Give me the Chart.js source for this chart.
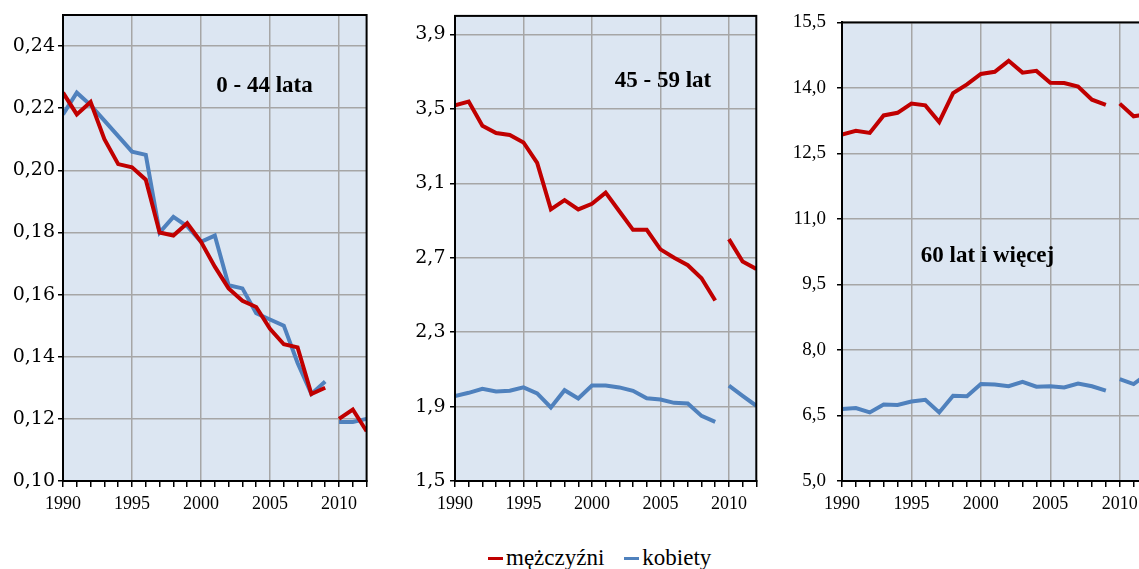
<!DOCTYPE html>
<html>
<head>
<meta charset="utf-8">
<script src="https://cdn.jsdelivr.net/npm/chart.js@4.4.1/dist/chart.umd.min.js"></script>
<style>
html, body { margin: 0; padding: 0; background: #fff; overflow: hidden; width: 1139px; height: 569px; }
canvas { position: absolute; top: 0; }
#c1 { left: 0; }
#c2 { left: 380px; }
#c3 { left: 760px; }
#legend { position: absolute; left: 488px; top: 545px; display: flex; align-items: center;
  font-family: "Liberation Serif", "Times New Roman", serif; font-size: 23px; color: #000; white-space: nowrap; }
#legend .sw { display: inline-block; width: 15px; height: 3px; margin-right: 3px; }
#legend .item { display: flex; align-items: center; margin-right: 20px; }
</style>
</head>
<body>
<canvas id="c1" width="380" height="520"></canvas>
<canvas id="c2" width="390" height="520"></canvas>
<canvas id="c3" width="400" height="520"></canvas>
<div id="legend">
  <span class="item"><span class="sw" style="background:#c00000"></span>mężczyźni</span>
  <span class="item"><span class="sw" style="background:#4f81bd"></span>kobiety</span>
</div>
<script>
const years = [1990, 1991, 1992, 1993, 1994, 1995, 1996, 1997, 1998, 1999, 2000, 2001,
  2002, 2003, 2004, 2005, 2006, 2007, 2008, 2009, 2010, 2011, 2012]

// 0 - 44 lata
const men044 = [0.225, 0.218, 0.222, 0.210, 0.202, 0.201, 0.197, 0.180, 0.179, 0.183, 0.177, 0.169,
  0.162, 0.158, 0.156, 0.149, 0.144, 0.143, 0.128, 0.130, 0.120, 0.123, 0.116]
const women044 = [0.218, 0.225, 0.221, 0.216, 0.211, 0.206, 0.205, 0.180, 0.185, 0.182, 0.177, 0.179,
  0.163, 0.162, 0.154, 0.152, 0.150, 0.138, 0.128, 0.132, 0.119, 0.119, 0.120]
const ticks044 = [0.10, 0.12, 0.14, 0.16, 0.18, 0.20, 0.22, 0.24]

// 45 - 59 lat
const men4559 = [3.52, 3.54, 3.41, 3.37, 3.36, 3.32, 3.21, 2.96, 3.01, 2.96, 2.99, 3.05,
  2.95, 2.85, 2.85, 2.745, 2.70, 2.66, 2.59, 2.47, 2.80, 2.68, 2.64]
const women4559 = [1.956, 1.974, 1.995, 1.981, 1.985, 2.003, 1.971, 1.895, 1.988, 1.944, 2.013, 2.013,
  2.003, 1.985, 1.945, 1.938, 1.920, 1.917, 1.850, 1.818, 2.013, 1.958, 1.904]
const ticks4559 = [1.5, 1.9, 2.3, 2.7, 3.1, 3.5, 3.9]

// 60 lat i więcej
const men60 = [12.93, 13.02, 12.97, 13.37, 13.43, 13.64, 13.60, 13.22, 13.88, 14.08, 14.32, 14.37,
  14.62, 14.35, 14.39, 14.12, 14.11, 14.03, 13.73, 13.61, 13.64, 13.35, 13.40]
const women60 = [6.65, 6.67, 6.57, 6.75, 6.74, 6.82, 6.86, 6.57, 6.95, 6.94, 7.22, 7.21,
  7.17, 7.27, 7.16, 7.17, 7.14, 7.23, 7.17, 7.07, 7.33, 7.22, 7.45]
const ticks60 = [5.0, 6.5, 8.0, 9.5, 11.0, 12.5, 14.0, 15.5]

const RED = '#c00000'
const BLUE = '#4f81bd'
const GRID = '#a6a6a6'
const SERIF = '"Liberation Serif", "Times New Roman", serif'

const panelDeco = {
	id: 'panelDeco',
	beforeDraw(chart) {
		const { ctx, chartArea: a } = chart
		ctx.save()
		ctx.fillStyle = '#dce6f2'
		ctx.fillRect(a.left, a.top, a.width, a.height)
		ctx.restore()
	},
	afterDraw(chart, args, opts) {
		const { ctx, chartArea: a } = chart
		ctx.save()
		ctx.strokeStyle = '#000'
		ctx.lineWidth = 2
		ctx.strokeRect(a.left, a.top, a.width, a.height)
		ctx.fillStyle = '#000'
		ctx.font = 'bold 23px ' + SERIF
		ctx.textAlign = 'center'
		ctx.textBaseline = 'alphabetic'
		ctx.fillText(opts.text, opts.x, opts.y)
		ctx.restore()
	}
}

const series = (name, values, color) => ({
	label: name,
	data: years.map((y, i) => ({ x: y, y: values[i] })),
	borderColor: color,
	borderWidth: 4,
	pointRadius: 0,
	tension: 0,
	fill: false,
	segment: {
		borderColor: ctx => ctx.p0.parsed.x === 2009 ? 'rgba(0,0,0,0)' : color
	}
})

function panel(id, o) {
	return new Chart(document.getElementById(id), {
		type: 'line',
		data: {
			datasets: [series('mężczyźni', o.men, RED), series('kobiety', o.women, BLUE)]
		},
		options: {
			responsive: false,
			animation: false,
			devicePixelRatio: 1,
			layout: { padding: { top: o.top, right: o.right, left: 0, bottom: 0 } },
			plugins: {
				legend: { display: false },
				tooltip: { enabled: false },
				panelDeco: o.title
			},
			scales: {
				x: {
					type: 'linear',
					min: 1990,
					max: 2012,
					afterBuildTicks: s => { s.ticks = years.map(v => ({ value: v })) },
					afterFit: s => { s.height = 39 },
					ticks: {
						autoSkip: false,
						maxRotation: 0,
						padding: 6,
						color: '#000',
						font: { family: SERIF, size: 18 },
						callback: v => v % 5 === 0 ? String(v) : ''
					},
					grid: {
						color: c => (c.tick && c.tick.value % 5 === 0) ? GRID : 'rgba(0,0,0,0)',
						lineWidth: 1.5,
						tickColor: '#000',
						tickWidth: 1.5,
						tickLength: 6
					},
					border: { display: true, color: '#000', width: 2 }
				},
				y: {
					type: 'linear',
					min: o.ticks[0],
					max: o.max,
					afterBuildTicks: s => { s.ticks = o.ticks.map(v => ({ value: v })) },
					afterFit: s => { s.width = o.yWidth },
					ticks: {
						padding: o.yPad,
						color: '#000',
						font: { family: o.yFamily, size: o.ySize },
						callback: v => v.toFixed(o.digits).replace('.', ',')
					},
					grid: {
						color: GRID,
						lineWidth: 1.5,
						tickColor: '#000',
						tickWidth: 1.5,
						tickLength: 5
					},
					border: { display: true, color: '#000', width: 2 }
				}
			}
		},
		plugins: [panelDeco]
	})
}

panel('c1', {
	men: men044, women: women044, ticks: ticks044, max: 0.25, digits: 2,
	top: 15, right: 13.4, yWidth: 63, yPad: 3, yFamily: '"DejaVu Serif", serif', ySize: 19,
	title: { text: '0 - 44 lata', x: 264.5, y: 91.5 }
})
panel('c2', {
	men: men4559, women: women4559, ticks: ticks4559, max: 4.0, digits: 1,
	top: 15, right: 13.7, yWidth: 75, yPad: 4.5, yFamily: '"DejaVu Serif", serif', ySize: 19,
	title: { text: '45 - 59 lat', x: 283, y: 87.3 }
})
panel('c3', {
	men: men60, women: women60, ticks: ticks60, max: 15.5, digits: 1,
	top: 18.7, right: 12.5, yWidth: 82, yPad: 11, yFamily: SERIF, ySize: 19,
	title: { text: '60 lat i więcej', x: 227.5, y: 261.5 }
})
</script>
</body>
</html>
